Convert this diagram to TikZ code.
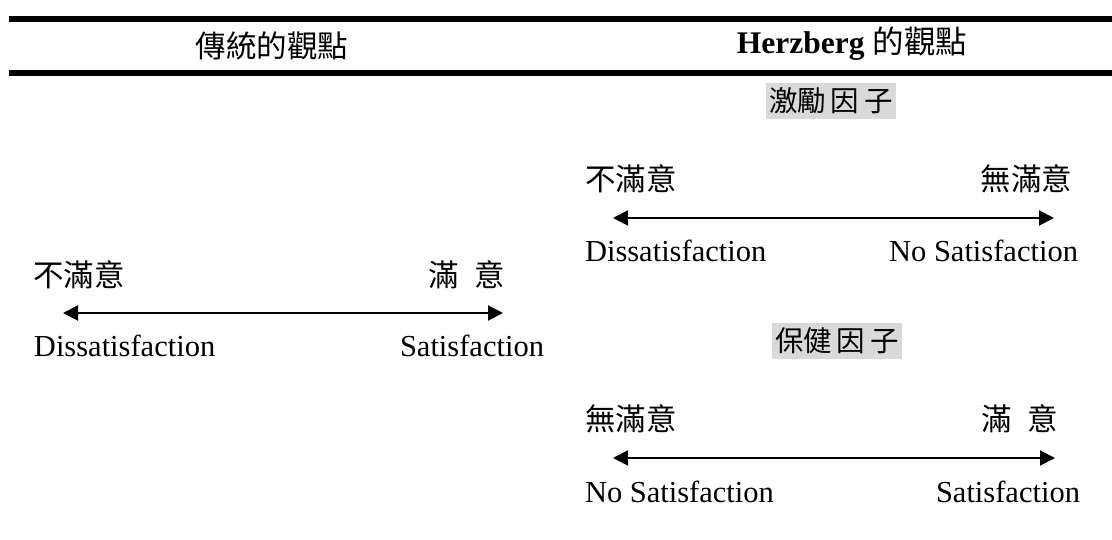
\documentclass[tikz,border=0pt]{standalone}
\usepackage{fontspec}
\setmainfont{Liberation Serif}
\newfontfamily\cjk{Noto Sans CJK TC}
\usetikzlibrary{arrows.meta}
\begin{document}
\begin{tikzpicture}[x=1pt,y=-1pt,
  every node/.style={inner sep=0pt,outer sep=0pt,font=\fontsize{30.5}{36}\selectfont},
  zh/.style={font=\fontsize{30.5}{36}\selectfont\cjk},
  hd/.style={font=\fontsize{30.5}{36}\selectfont\cjk},
  tag/.style={font=\fontsize{28.5}{34}\selectfont\cjk,fill=tagbg,inner xsep=3pt,inner ysep=5pt},
  rule/.style={line width=6pt},
  dbl/.style={line width=2pt,{Triangle[length=15pt,width=15pt]}-{Triangle[length=15pt,width=15pt]}}]
\definecolor{tagbg}{HTML}{D9D9D9}
\useasboundingbox (0,0) rectangle (1112,540);
% rules
\draw[rule] (9,19) -- (1112,19);
\draw[rule] (9,73) -- (1112,73);
% headers
\node[hd] (h1) at (272,46) {傳統的觀點};
\node[anchor=base,font=\fontsize{31.5}{36}\selectfont] (h2) at (852,54) {\textbf{Herzberg} {\cjk 的觀點}};
% left
\node[zh,anchor=west] (l1) at (33,275) {不滿意};
\node[zh,anchor=east] (l2) at (505,275) {滿\hspace{16pt}意};
\coordinate (la) at (63,313);
\coordinate (lb) at (503,313);
\draw[dbl] (la) -- (lb);
\node[anchor=base west] (l3) at (34,356) {Dissatisfaction};
\node[anchor=base east] (l4) at (544,356) {Satisfaction};
% right top
\node[tag] (t1) at (831,101) {激勵\,因\,子};
\node[zh,anchor=west] (r1) at (585,179) {不滿意};
\node[zh,anchor=east] (r2) at (1072,179) {無滿意};
\coordinate (ra) at (613,218);
\coordinate (rb) at (1054,218);
\draw[dbl] (ra) -- (rb);
\node[anchor=base west] (r3) at (585,262) {Dissatisfaction};
\node[anchor=base east] (r4) at (1078,262) {No Satisfaction};
% right bottom
\node[tag] (t2) at (837,341) {保健\,因\,子};
\node[zh,anchor=west] (s1) at (585,419) {無滿意};
\node[zh,anchor=east] (s2) at (1058,419) {滿\hspace{16pt}意};
\coordinate (sa) at (613,458);
\coordinate (sb) at (1055,458);
\draw[dbl] (sa) -- (sb);
\node[anchor=base west] (s3) at (585,502) {No Satisfaction};
\node[anchor=base east] (s4) at (1080,502) {Satisfaction};
\end{tikzpicture}
\end{document}
